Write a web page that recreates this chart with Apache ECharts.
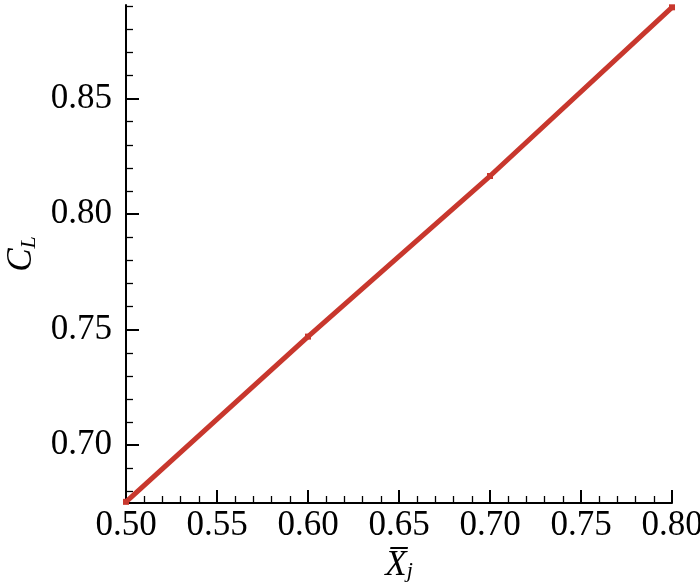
<!DOCTYPE html>
<html>
<head>
<meta charset="utf-8">
<script src="https://cdn.jsdelivr.net/npm/echarts@6/dist/echarts.min.js"></script>
<style>html,body{margin:0;padding:0;background:#fff}#c{width:700px;height:583px}</style>
</head>
<body>
<div id="c"></div>
<script>
var xValues = [0.50, 0.60, 0.70, 0.80];
var clValues = [0.6755, 0.747, 0.8165, 0.8895];
var yMajorTicks = [0.70, 0.75, 0.80, 0.85];
var yMinorTicks = [0.68, 0.69, 0.71, 0.72, 0.73, 0.74, 0.76, 0.77, 0.78, 0.79, 0.81, 0.82, 0.83, 0.84, 0.86, 0.87, 0.88, 0.89];
var xRange = [0.50, 0.80];
var yRange = [0.675, 0.8905];

var FONT = '"Liberation Serif", "Times New Roman", serif';
var chart = echarts.init(document.getElementById('c'), null, {renderer: 'canvas'});
var data = xValues.map(function (x, i) { return [x, clValues[i]]; });

chart.setOption({
  animation: false,
  backgroundColor: '#fff',
  grid: {left: 126, right: 28, top: 5, bottom: 80, containLabel: false, outerBoundsMode: 'none'},
  xAxis: {
    type: 'value', min: xRange[0], max: xRange[1], interval: 0.05,
    axisLine: {show: true, onZero: false, lineStyle: {color: '#000', width: 2}},
    axisTick: {show: true, inside: true, length: 13, lineStyle: {color: '#000', width: 2}},
    minorTick: {show: true, splitNumber: 5, length: 7, lineStyle: {color: '#000', width: 1.3}},
    splitLine: {show: false},
    axisLabel: {color: '#000', fontFamily: FONT, fontSize: 35, margin: 5,
      formatter: function (v) { return v.toFixed(2); }},
    name: '{x|X\u0305}{j|j}',
    nameLocation: 'middle', nameGap: 41,
    nameTextStyle: {
      rich: {
        x: {fontFamily: FONT, fontStyle: 'italic', fontSize: 35, color: '#000'},
        j: {fontFamily: FONT, fontStyle: 'italic', fontSize: 22, color: '#000', padding: [12, 0, 0, 0]}
      }
    }
  },
  yAxis: [{
    type: 'value', min: yRange[0], max: yRange[1],
    axisLine: {show: true, onZero: false, lineStyle: {color: '#000', width: 2}},
    axisTick: {show: true, inside: true, length: 13, customValues: yMajorTicks, lineStyle: {color: '#000', width: 2}},
    splitLine: {show: false},
    axisLabel: {color: '#000', fontFamily: FONT, fontSize: 35, margin: 14, customValues: yMajorTicks,
      formatter: function (v) { return v.toFixed(2); }},
    name: '{c|C}{l|L}',
    nameLocation: 'middle', nameGap: 82, nameRotate: 90,
    nameTextStyle: {
      rich: {
        c: {fontFamily: FONT, fontStyle: 'italic', fontSize: 35, color: '#000'},
        l: {fontFamily: FONT, fontStyle: 'italic', fontSize: 22, color: '#000', padding: [14, 0, 0, 0]}
      }
    }
  }, {
    type: 'value', min: yRange[0], max: yRange[1], position: 'left',
    axisLine: {show: false},
    axisTick: {show: true, inside: true, length: 7, customValues: yMinorTicks, lineStyle: {color: '#000', width: 1.3}},
    axisLabel: {show: false},
    splitLine: {show: false}
  }],
  series: [{
    type: 'line', yAxisIndex: 0, data: data,
    clip: false,
    lineStyle: {color: '#c8372d', width: 5},
    symbol: 'rect', symbolSize: 6,
    itemStyle: {color: '#c8372d'}
  }]
});
</script>
</body>
</html>
